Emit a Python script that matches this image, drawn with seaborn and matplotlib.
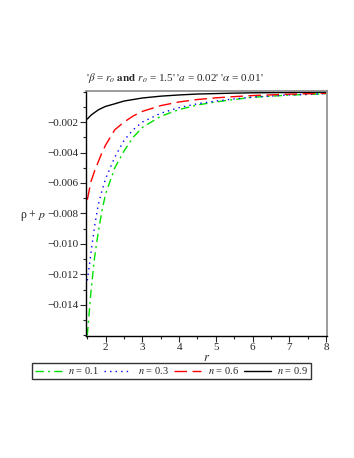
import numpy as np, pandas as pd
import matplotlib as mpl; mpl.use("Agg")
import matplotlib.pyplot as plt
from matplotlib.ticker import MultipleLocator
import seaborn as sns

# values
r = [1.5, 1.6, 1.7, 1.8, 1.9, 2.0, 2.25, 2.5, 2.75, 3.0, 3.5, 4.0, 4.5, 5.0, 5.5, 6.0, 7.0, 8.0]
n01 = [-0.0160, -0.0131, -0.01085, -0.0092, -0.0078, -0.0067, -0.0050, -0.0039, -0.0030, -0.00235,
       -0.00162, -0.00118, -0.00088, -0.00068, -0.00052, -0.00037, -0.00023, -0.00014]
n03 = [-0.0124, -0.0106, -0.0088, -0.0074, -0.0065, -0.0057, -0.0043, -0.0032, -0.0025, -0.0020,
       -0.00142, -0.00105, -0.0008, -0.00062, -0.00048, -0.00036, -0.00022, -0.00014]
n06 = [-0.0071, -0.0059, -0.0052, -0.0046, -0.0040, -0.0035, -0.0025, -0.0020, -0.0016, -0.0013,
       -0.00092, -0.00068, -0.00052, -0.00041, -0.00033, -0.00026, -0.00017, -0.00011]
n09 = [-0.0018, -0.00155, -0.00137, -0.0012, -0.00108, -0.00097, -0.0008, -0.00062, -0.00052, -0.00042,
       -0.0003, -0.00022, -0.00016, -0.00013, -0.0001, -0.00008, -0.00006, -0.00004]
LABELS = [r"$n$ = 0.1", r"$n$ = 0.3", r"$n$ = 0.6", r"$n$ = 0.9"]
SERIES = [n01, n03, n06, n09]
COLORS = ["#00e000", "#0000ff", "#ff0000", "#000000"]
STYLES = [(0, (6, 3, 1.5, 3)), (0, (1, 3)), (0, (9, 4)), "-"]

sns.set_theme(style="white")
mpl.rcParams.update({"font.family": ["Liberation Serif", "DejaVu Serif"], "mathtext.fontset": "stix",
                     "font.size": 8, "xtick.labelsize": 8, "ytick.labelsize": 8})

fig = plt.figure(figsize=(3.54, 4.58), dpi=100)
ax = fig.add_axes([0.242, 0.266, 0.682, 0.536])
for vals, lab, c, ls in zip(SERIES, LABELS, COLORS, STYLES):
    sns.lineplot(x=r, y=vals, ax=ax, color=c, linestyle=ls, lw=1.0, label=lab, legend=False)

ax.set_xlim(1.455, 8.03); ax.set_ylim(-0.01606, 0.00006)
ax.xaxis.set_major_locator(MultipleLocator(1)); ax.xaxis.set_minor_locator(MultipleLocator(0.5))
ax.yaxis.set_major_locator(MultipleLocator(0.002)); ax.yaxis.set_minor_locator(MultipleLocator(0.001))
ax.set_yticks([-0.014, -0.012, -0.010, -0.008, -0.006, -0.004, -0.002])
ax.set_xticks([2, 3, 4, 5, 6, 7, 8])
ax.yaxis.set_major_formatter(lambda v, p: f"{v:.3f}".replace("-", "\u2212"))
ax.tick_params(axis="both", which="both", direction="out", left=True, bottom=True, top=False, right=False, pad=1)
ax.tick_params(which="major", length=4, width=0.8)
ax.tick_params(which="minor", length=2, width=0.8)
for s in ("left", "bottom"): ax.spines[s].set_color("black"); ax.spines[s].set_linewidth(1.0)
for s in ("top", "right"): ax.spines[s].set_color("#8a8a8a"); ax.spines[s].set_linewidth(1.2)
ax.set_xlabel("$r$", fontsize=9, labelpad=0)
ax.set_ylabel("")

fig.text(33/354, 1-215/458, r"ρ + $p$", fontsize=8.5, ha="center", va="center")
fig.text(86/354, 1-81/458, r"'$\beta$ = $r_o$ $\mathbf{and}$ $r_o$ = 1.5' '$a$ = 0.02' '$\alpha$ = 0.01'",
         fontsize=8, ha="left", va="baseline")

h, l = ax.get_legend_handles_labels()
fig.legend(h, l, loc="center", bbox_to_anchor=(171.5/354, 1-371/458), ncol=4, frameon=True, fancybox=False,
           edgecolor="black", fontsize=7.5, handlelength=2.6, handletextpad=0.6, columnspacing=0.55,
           borderpad=0.25, borderaxespad=0)
fig.savefig("out.png", dpi=100)
